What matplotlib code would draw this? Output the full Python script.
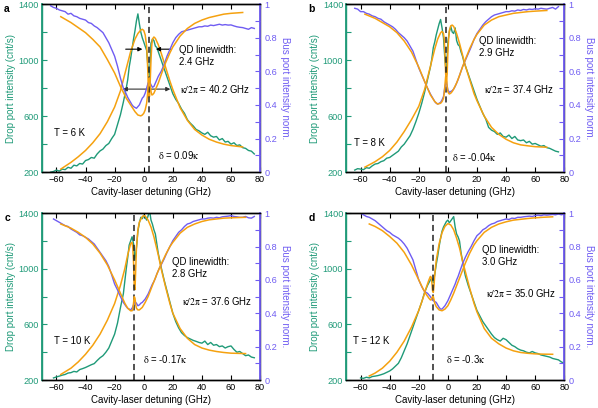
import numpy as np
import matplotlib
matplotlib.use('Agg')
from matplotlib import pyplot as plt
from matplotlib.ticker import FixedLocator

plt.rcParams['font.family'] = ['Liberation Sans', 'DejaVu Sans']
plt.rcParams['mathtext.fontset'] = 'stix'
plt.rcParams['mathtext.default'] = 'rm'

VERDE = '#1f9a78'
MORADO = '#6f5cf2'
NARANJA = '#f5a10f'


#Rejilla de detuning de los datos medidos (1 GHz cerca del QD, 2 GHz afuera)
def rejilla(inicio, fin):
    return list(range(inicio, -12, 2)) + list(range(-12, 13)) + list(range(14, fin + 1, 2))


#---------------- Panel a (T = 6 K) ----------------
x_a = rejilla(-64, 76)
drop_a = [200, 205, 215, 208, 222, 218, 235, 228, 250, 245, 262, 258, 283, 290, 305, 300, 330, 352, 365, 390, 405, 440, 470, 540, 610, 700,
          800, 860, 950, 1010, 1080, 1150, 1210, 1280, 1330, 1260, 1200, 1160, 1130, 1100, 1070, 940, 880, 1120, 1150, 1140, 1100, 1090, 1060, 1030, 1000,
          940, 880, 820, 760, 720, 690, 650, 620, 575, 550, 530, 505, 495, 480, 470, 485, 460, 450, 455, 430, 440, 415, 420, 400, 410, 390, 395, 375, 370, 355, 350, 330]
bus_a = [0.99, 0.98, 0.975, 0.965, 0.96, 0.955, 0.94, 0.945, 0.93, 0.925, 0.915, 0.91, 0.905, 0.89, 0.885, 0.87, 0.86, 0.845, 0.83, 0.80, 0.77, 0.73, 0.69, 0.63, 0.56, 0.50,
         0.465, 0.445, 0.43, 0.415, 0.40, 0.39, 0.385, 0.38, 0.39, 0.40, 0.42, 0.44, 0.45, 0.47, 0.50, 0.53, 0.54, 0.52, 0.505, 0.51, 0.53, 0.55, 0.57, 0.585, 0.60,
         0.64, 0.69, 0.73, 0.77, 0.80, 0.82, 0.835, 0.84, 0.845, 0.85, 0.855, 0.86, 0.865, 0.865, 0.87, 0.868, 0.875, 0.872, 0.876, 0.88, 0.875, 0.878, 0.875, 0.876, 0.87, 0.865, 0.862, 0.86, 0.855, 0.85, 0.86, 0.855]
xf_a = [-57, -50, -45, -40, -35, -30, -25, -20, -16, -12, -9, -6, -4, -2, -1, 0, 1, 2, 2.5, 3, 3.5, 4, 4.5, 5, 5.5, 6, 7, 8, 10, 12, 15, 18, 20, 25, 30, 35, 40, 45, 50, 55, 60, 68]
dropfit_a = [222, 270, 310, 355, 410, 475, 560, 665, 780, 940, 1060, 1150, 1190, 1215, 1220, 1212, 1180, 1100, 1000, 870, 740, 740, 860, 1000, 1100, 1150, 1165, 1155, 1110, 1050, 950, 850, 790, 660, 570, 505, 465, 435, 415, 400, 390, 380]
busfit_a = [0.925, 0.89, 0.86, 0.83, 0.79, 0.745, 0.67, 0.59, 0.51, 0.44, 0.40, 0.36, 0.34, 0.335, 0.34, 0.35, 0.37, 0.41, 0.45, 0.51, 0.56, 0.56, 0.52, 0.48, 0.46, 0.46, 0.47, 0.49, 0.53, 0.58, 0.65, 0.71, 0.745, 0.81, 0.855, 0.885, 0.905, 0.92, 0.93, 0.94, 0.945, 0.95]

#---------------- Panel b (T = 8 K) ----------------
x_b = rejilla(-64, 76)
drop_b = [215, 225, 222, 218, 232, 228, 245, 258, 262, 275, 282, 300, 305, 320, 335, 350, 380, 400, 430, 460, 505, 560, 620, 690, 770, 860,
          950, 1010, 1090, 1130, 1180, 1220, 1260, 1290, 1230, 1160, 1000, 900, 1130, 1200, 1240, 1200, 1190, 1230, 1140, 1110, 1100, 1060, 1030, 990, 960,
          900, 840, 780, 720, 670, 620, 580, 520, 500, 490, 470, 480, 455, 450, 465, 440, 455, 430, 425, 430, 410, 420, 400, 405, 395, 385, 390, 375, 370, 360, 350, 345]
bus_b = [0.975, 0.97, 0.955, 0.955, 0.945, 0.94, 0.93, 0.925, 0.915, 0.91, 0.895, 0.885, 0.875, 0.865, 0.85, 0.83, 0.815, 0.80, 0.78, 0.75, 0.72, 0.67, 0.62, 0.58, 0.54, 0.50,
         0.465, 0.45, 0.435, 0.42, 0.41, 0.405, 0.41, 0.415, 0.43, 0.45, 0.51, 0.54, 0.49, 0.475, 0.48, 0.485, 0.495, 0.51, 0.53, 0.55, 0.575, 0.60, 0.625, 0.645, 0.665,
         0.705, 0.745, 0.79, 0.825, 0.85, 0.875, 0.895, 0.91, 0.925, 0.935, 0.94, 0.945, 0.95, 0.955, 0.955, 0.96, 0.958, 0.965, 0.962, 0.968, 0.965, 0.97, 0.968, 0.972, 0.97, 0.975, 0.972, 0.97, 0.975, 0.98, 0.97, 0.985]
xf_b = [-57, -50, -45, -40, -35, -30, -25, -20, -16, -12, -9, -7, -5, -4, -3, -2.5, -2, -1.5, -1, -0.5, 0, 0.5, 1, 2, 3, 4, 6, 8, 10, 12, 15, 18, 20, 25, 30, 35, 40, 45, 50, 55, 60, 68]
dropfit_b = [236, 275, 310, 355, 415, 490, 575, 670, 790, 955, 1080, 1150, 1195, 1205, 1190, 1150, 1050, 900, 840, 900, 1050, 1150, 1210, 1245, 1250, 1240, 1190, 1120, 1040, 960, 860, 760, 710, 600, 520, 470, 435, 410, 395, 388, 382, 378]
busfit_b = [0.94, 0.915, 0.89, 0.865, 0.83, 0.78, 0.715, 0.625, 0.54, 0.46, 0.42, 0.405, 0.41, 0.42, 0.44, 0.47, 0.52, 0.57, 0.56, 0.51, 0.48, 0.47, 0.465, 0.47, 0.48, 0.495, 0.53, 0.575, 0.625, 0.67, 0.735, 0.79, 0.82, 0.875, 0.905, 0.925, 0.935, 0.945, 0.95, 0.955, 0.958, 0.962]

#---------------- Panel c (T = 10 K) ----------------
x_c = rejilla(-62, 76)
drop_c = [215, 222, 228, 235, 240, 250, 253, 262, 258, 275, 282, 290, 300, 310, 318, 340, 360, 375, 400, 430, 480, 530, 610, 720, 820,
          1000, 1080, 1170, 1200, 1230, 1180, 1060, 1150, 1270, 1330, 1370, 1360, 1385, 1370, 1350, 1380, 1420, 1350, 1320, 1280, 1250, 1180, 1110, 1060, 1010,
          920, 840, 760, 680, 620, 575, 540, 520, 505, 495, 485, 478, 470, 465, 480, 455, 470, 450, 455, 440, 445, 430, 440, 445, 420, 400, 405, 390, 375, 380, 365, 360]
bus_c = [0.965, 0.955, 0.945, 0.935, 0.925, 0.92, 0.905, 0.895, 0.885, 0.87, 0.865, 0.855, 0.845, 0.83, 0.815, 0.79, 0.765, 0.74, 0.715, 0.68, 0.63, 0.575, 0.54, 0.50, 0.465,
         0.44, 0.43, 0.425, 0.42, 0.43, 0.45, 0.47, 0.46, 0.445, 0.45, 0.46, 0.465, 0.475, 0.485, 0.50, 0.515, 0.535, 0.555, 0.575, 0.59, 0.61, 0.635, 0.655, 0.675, 0.69,
         0.725, 0.765, 0.80, 0.835, 0.86, 0.885, 0.90, 0.92, 0.935, 0.94, 0.95, 0.955, 0.96, 0.965, 0.965, 0.97, 0.972, 0.97, 0.975, 0.972, 0.978, 0.98, 0.982, 0.985, 0.98, 0.978, 0.975, 0.975, 0.98, 0.972, 0.97, 0.98]
xf_c = [-57, -50, -45, -40, -35, -30, -25, -20, -16, -13, -11, -9, -8, -7.5, -7, -6.5, -6, -5.5, -5, -4, -3, -1, 0, 1, 3, 5, 7, 10, 12, 15, 18, 20, 25, 30, 35, 40, 45, 50, 55, 60, 70]
dropfit_c = [240, 285, 330, 385, 450, 530, 630, 750, 880, 1000, 1100, 1180, 1190, 1150, 1050, 870, 850, 1000, 1150, 1280, 1335, 1375, 1382, 1380, 1350, 1300, 1230, 1100, 1000, 870, 750, 680, 570, 500, 455, 430, 415, 405, 398, 393, 390]
busfit_c = [0.935, 0.91, 0.885, 0.855, 0.815, 0.76, 0.69, 0.60, 0.52, 0.46, 0.43, 0.415, 0.415, 0.425, 0.46, 0.50, 0.49, 0.45, 0.43, 0.42, 0.42, 0.435, 0.45, 0.465, 0.50, 0.545, 0.59, 0.655, 0.695, 0.75, 0.80, 0.825, 0.88, 0.915, 0.935, 0.95, 0.96, 0.965, 0.97, 0.972, 0.975]

#---------------- Panel d (T = 12 K) ----------------
x_d = rejilla(-60, 80)
drop_d = [215, 212, 220, 215, 225, 228, 232, 238, 245, 255, 265, 280, 300, 320, 360, 410, 460, 520, 580, 640, 700, 760, 830, 880,
          920, 930, 900, 960, 1030, 1090, 1160, 1220, 1270, 1300, 1320, 1340, 1350, 1330, 1345, 1360, 1375, 1300, 1250, 1230, 1200, 1120, 1060, 1000, 950,
          880, 820, 760, 700, 660, 620, 590, 560, 530, 505, 490, 480, 500, 490, 470, 450, 440, 425, 415, 410, 400, 395, 405, 395, 390, 380, 375, 370, 365, 355, 350, 345, 330, 320]
bus_d = [1.0, 0.99, 0.98, 0.975, 0.965, 0.955, 0.94, 0.925, 0.91, 0.895, 0.885, 0.87, 0.86, 0.85, 0.835, 0.815, 0.79, 0.755, 0.72, 0.66, 0.60, 0.56, 0.53, 0.52,
         0.50, 0.485, 0.475, 0.47, 0.465, 0.45, 0.435, 0.425, 0.425, 0.435, 0.445, 0.46, 0.475, 0.495, 0.515, 0.535, 0.555, 0.575, 0.60, 0.62, 0.645, 0.67, 0.695, 0.715, 0.735,
         0.77, 0.80, 0.835, 0.865, 0.88, 0.90, 0.91, 0.925, 0.935, 0.94, 0.95, 0.955, 0.96, 0.965, 0.962, 0.97, 0.968, 0.975, 0.975, 0.978, 0.98, 0.982, 0.98, 0.985, 0.988, 0.985, 0.99, 0.988, 0.99, 0.992, 0.99, 0.995, 0.99, 0.995]
xf_d = [-54, -50, -45, -40, -35, -30, -25, -20, -17, -15, -13, -12, -11.5, -11, -10.5, -10, -9.5, -9, -8, -6, -4, -2, 0, 2, 4, 6, 8, 10, 12, 15, 18, 20, 25, 30, 35, 40, 45, 50, 55, 60, 65, 72]
dropfit_d = [229, 250, 285, 335, 400, 480, 580, 700, 790, 860, 920, 945, 940, 900, 840, 830, 880, 960, 1060, 1180, 1260, 1305, 1325, 1315, 1280, 1220, 1150, 1060, 980, 860, 750, 690, 570, 500, 460, 430, 410, 398, 392, 388, 386, 385]
busfit_d = [0.935, 0.92, 0.895, 0.86, 0.82, 0.765, 0.69, 0.60, 0.545, 0.515, 0.49, 0.48, 0.48, 0.49, 0.50, 0.50, 0.48, 0.46, 0.44, 0.42, 0.415, 0.425, 0.445, 0.48, 0.52, 0.565, 0.61, 0.655, 0.70, 0.76, 0.81, 0.835, 0.885, 0.915, 0.935, 0.948, 0.958, 0.963, 0.968, 0.972, 0.975, 0.978]

#Textos de cada panel
letras = ['a', 'b', 'c', 'd']
temperaturas = ['T = 6 K', 'T = 8 K', 'T = 10 K', 'T = 12 K']
anchos_qd = ['2.4 GHz', '2.9 GHz', '2.8 GHz', '3.0 GHz']
kappas = ['40.2 GHz', '37.4 GHz', '37.6 GHz', '35.0 GHz']
deltas = ['0.09', '-0.04', '-0.17', '-0.3']
x_delta = [3.6, -1.5, -6.4, -10.5]

#Posiciones de los textos (datos, eje izquierdo)
pos_qd = [(24, 1030), (21.5, 1095), (19.5, 1003), (23.5, 1089)]
pos_kappa = [(25, 795), (25, 795), (26.5, 770), (26, 825)]
pos_temp = [(-62, 480), (-64.5, 405), (-62, 478), (-65.5, 482)]
pos_delta = [(9.5, 322), (3, 305), (-0.5, 348), (-1.2, 352)]

cajas = [[0.070, 0.578, 0.365, 0.412], [0.5786, 0.578, 0.365, 0.412],
         [0.070, 0.0686, 0.365, 0.409], [0.5786, 0.0686, 0.365, 0.409]]

datos = [(x_a, drop_a, bus_a, xf_a, dropfit_a, busfit_a),
         (x_b, drop_b, bus_b, xf_b, dropfit_b, busfit_b),
         (x_c, drop_c, bus_c, xf_c, dropfit_c, busfit_c),
         (x_d, drop_d, bus_d, xf_d, dropfit_d, busfit_d)]

fig = plt.figure(figsize=(5.98, 4.08), dpi=100)

for i in range(4):
    x, drop, bus, xf, dropfit, busfit = datos[i]
    ax = fig.add_axes(cajas[i])
    ax2 = ax.twinx()

    #Drop port (verde) y su ajuste
    ax.plot(x, drop, color=VERDE, lw=1.0)
    ax.plot(xf, dropfit, color=NARANJA, lw=1.1)
    ax.axvline(x_delta[i], color='#222222', lw=1.1, ls=(0, (4, 2.5)))

    #Bus port (morado) y su ajuste
    ax2.plot(x, bus, color=MORADO, lw=1.0)
    ax2.plot(xf, busfit, color=NARANJA, lw=1.1)

    #Limites y ticks
    ax.set_xlim(-70, 80)
    ax.set_ylim(200, 1400)
    ax2.set_ylim(0, 1)
    ax.set_xticks(np.arange(-60, 81, 20))
    ax.set_yticks([200, 600, 1000, 1400])
    ax.yaxis.set_minor_locator(FixedLocator([400, 800, 1200]))
    ax2.set_yticks(np.arange(0, 1.01, 0.2))
    ax2.set_yticklabels(['0', '0.2', '0.4', '0.6', '0.8', '1'])
    ax2.yaxis.set_minor_locator(FixedLocator([0.1, 0.3, 0.5, 0.7, 0.9]))

    ax.tick_params(axis='x', direction='in', top=True, length=3.5, width=0.8, labelsize=6.6, pad=2)
    ax.tick_params(axis='y', which='both', direction='in', length=3.5, width=0.8, labelsize=6.6,
                   colors=VERDE, pad=2)
    ax2.tick_params(axis='y', which='both', direction='in', length=3.5, width=0.8, labelsize=6.6,
                    colors=MORADO, pad=3)

    ax.spines['left'].set_color(VERDE)
    ax2.spines['left'].set_color(VERDE)
    ax2.spines['right'].set_color(MORADO)
    for lado in ['left', 'right', 'top', 'bottom']:
        ax.spines[lado].set_linewidth(1.0)
        ax2.spines[lado].set_linewidth(1.0)
    ax2.spines['left'].set_linewidth(1.3)
    ax2.spines['right'].set_linewidth(1.3)

    ax.set_xlabel('Cavity-laser detuning (GHz)', fontsize=7, labelpad=2)
    ax.set_ylabel('Drop port intensity (cnt/s)', fontsize=7, color=VERDE, labelpad=2)
    ax2.set_ylabel('Bus port intensity norm.', fontsize=7, color=MORADO, rotation=270, labelpad=9)

    #Anotaciones
    ax.text(pos_qd[i][0], pos_qd[i][1], 'QD linewidth:\n' + anchos_qd[i], fontsize=6.9,
            va='center', linespacing=1.25, zorder=5)
    ax.text(pos_kappa[i][0], pos_kappa[i][1], r'$\kappa/2\pi$ = ' + kappas[i], fontsize=6.9,
            va='center', zorder=5)
    ax.text(pos_temp[i][0], pos_temp[i][1], temperaturas[i], fontsize=6.9, va='center')
    ax.text(pos_delta[i][0], pos_delta[i][1], r'$\delta$ = ' + deltas[i] + r'$\kappa$', fontsize=6.9,
            va='center')

    fig.text(cajas[i][0] - 0.063, cajas[i][1] + cajas[i][3] - 0.012, letras[i],
             fontsize=7.5, fontweight='bold', va='center')

    #Flechas solo en el panel a
    if i == 0:
        ax.annotate('', xy=(1.0, 1078), xytext=(-14.3, 1078),
                    arrowprops=dict(arrowstyle='-|>', color='black', lw=0.8, mutation_scale=6), zorder=6)
        ax.annotate('', xy=(6.5, 1078), xytext=(20.5, 1078),
                    arrowprops=dict(arrowstyle='-|>', color='black', lw=0.8, mutation_scale=6), zorder=6)
        ax.annotate('', xy=(-16.3, 793), xytext=(20.2, 793),
                    arrowprops=dict(arrowstyle='<|-|>', color='#333333', lw=0.8, mutation_scale=6), zorder=6)

plt.savefig('out.png', dpi=100)
